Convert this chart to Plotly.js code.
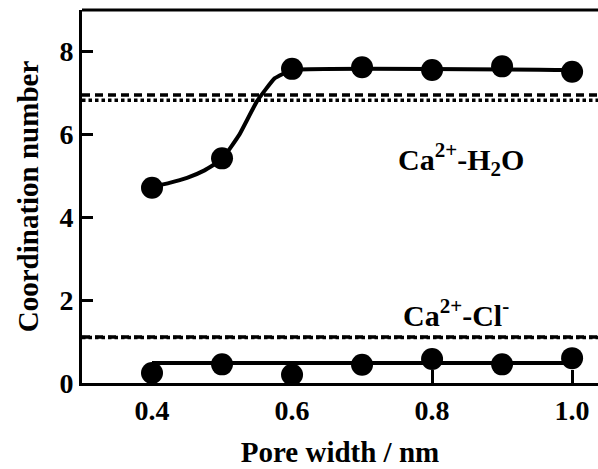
<!DOCTYPE html>
<html>
<head>
<meta charset="utf-8">
<script src="https://cdn.plot.ly/plotly-3.0.1.min.js"></script>
<style>html,body{margin:0;padding:0;background:#fff;}#chart{width:598px;height:469px;}</style>
</head>
<body>
<div id="chart"></div>
<script>
// Data
const poreWidth = [0.4, 0.5, 0.6, 0.7, 0.8, 0.9, 1.0];
const cnH2O = [4.71, 5.42, 7.58, 7.62, 7.55, 7.64, 7.51];
const cnCl = [0.24, 0.45, 0.20, 0.44, 0.58, 0.45, 0.60];
// fitted curves
const fitH2OX = [0.4, 0.425, 0.45, 0.475, 0.5, 0.525, 0.55, 0.575, 0.6, 1.0];
const fitH2OY = [4.74, 4.83, 4.95, 5.13, 5.40, 6.00, 6.80, 7.35, 7.55, 7.55];
const fitClX = [0.4, 1.0];
const fitClY = [0.48, 0.48];
// bulk reference values (dashed / dotted)
const refH2O = [6.95, 6.82];
const refCl = [1.11, 1.10];
const xTicks = [0.4, 0.6, 0.8, 1.0];
const xTickLabels = ['0.4', '0.6', '0.8', '1.0'];
const yTicks = [0, 2, 4, 6, 8];

const FONT = 'Liberation Serif';

const traces = [
  {x: fitH2OX, y: fitH2OY, mode: 'lines', line: {color: '#000', width: 4, shape: 'spline', smoothing: 0.3}, hoverinfo: 'skip'},
  {x: fitClX, y: fitClY, mode: 'lines', line: {color: '#000', width: 4}, hoverinfo: 'skip'},
  {x: poreWidth, y: cnH2O, mode: 'markers', marker: {color: '#000', size: 22}},
  {x: poreWidth, y: cnCl, mode: 'markers', marker: {color: '#000', size: 22}}
];

const dashStyles = ['8px,5px', '3.5px,3px'];
const shapes = [];
refH2O.forEach((v, i) => shapes.push({type: 'line', xref: 'paper', yref: 'y', x0: 0, x1: 1, y0: v, y1: v, line: {color: '#000', width: 3.5, dash: dashStyles[i]}}));
refCl.forEach((v, i) => shapes.push({type: 'line', xref: 'paper', yref: 'y', x0: 0, x1: 1, y0: v, y1: v, line: {color: '#000', width: 3.5, dash: dashStyles[i]}}));
shapes.push({type: 'line', xref: 'paper', yref: 'paper', x0: 0, x1: 1, y0: 1, y1: 1, line: {color: '#000', width: 3}});

const layout = {
  width: 598, height: 469,
  margin: {l: 82, r: 0, t: 10, b: 86},
  paper_bgcolor: '#fff', plot_bgcolor: '#fff',
  showlegend: false,
  font: {family: FONT, color: '#000'},
  xaxis: {
    range: [0.3, 1.037], showgrid: false, zeroline: false,
    showline: true, linecolor: '#000', linewidth: 3,
    ticks: 'inside', ticklen: 13, tickwidth: 3, tickcolor: '#000',
    tickvals: xTicks, ticktext: xTickLabels,
    tickfont: {family: FONT, size: 28, weight: 'bold'},
    title: {text: 'Pore width / nm', font: {family: FONT, size: 29, weight: 'bold'}, standoff: 18}
  },
  yaxis: {
    range: [0, 9], showgrid: false, zeroline: false,
    showline: true, linecolor: '#000', linewidth: 3,
    ticks: 'inside', ticklen: 11, tickwidth: 3, tickcolor: '#000',
    tickvals: yTicks,
    tickfont: {family: FONT, size: 28, weight: 'bold'},
    title: {text: 'Coordination number', font: {family: FONT, size: 29, weight: 'bold'}, standoff: 13}
  },
  shapes: shapes,
  annotations: [
    {x: 0.841, y: 5.4, xref: 'x', yref: 'y', showarrow: false, text: 'Ca<sup>2+</sup>-H<sub>2</sub>O', font: {family: FONT, size: 30, weight: 'bold'}},
    {x: 0.834, y: 1.68, xref: 'x', yref: 'y', showarrow: false, text: 'Ca<sup>2+</sup>-Cl<sup>-</sup>', font: {family: FONT, size: 30, weight: 'bold'}}
  ]
};

Plotly.newPlot('chart', traces, layout, {displayModeBar: false, staticPlot: true});
</script>
</body>
</html>
